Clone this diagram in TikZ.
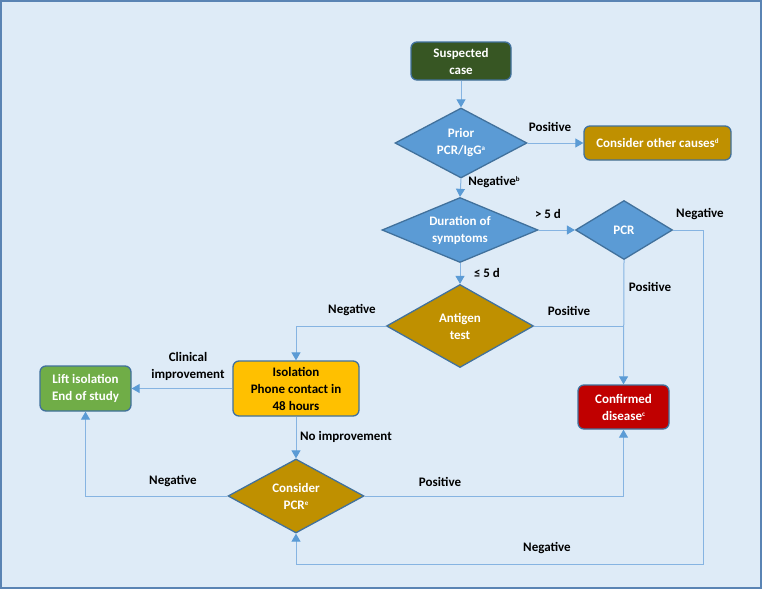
\documentclass[tikz,border=0pt]{standalone}
\usepackage{fontspec}
\setmainfont{Carlito}
\usetikzlibrary{shapes.geometric,arrows.meta}
\definecolor{bgc}{HTML}{DEEBF7}
\definecolor{framec}{HTML}{5A84B4}
\definecolor{bordc}{HTML}{41719C}
\definecolor{linec}{HTML}{86B4E2}
\definecolor{tipc}{HTML}{5B9BD5}
\definecolor{dgreen}{HTML}{375623}
\definecolor{dblue}{HTML}{5B9BD5}
\definecolor{gold}{HTML}{BF9000}
\definecolor{yell}{HTML}{FFC000}
\definecolor{lgreen}{HTML}{70AD47}
\definecolor{dred}{HTML}{C00000}
\newcommand{\supx}[1]{\raisebox{4pt}{\fontsize{7}{7}\selectfont #1}}
\tikzset{
  every node/.style={font=\fontsize{13}{17}\selectfont\bfseries},
  box/.style={draw=bordc, line width=1.3pt, rounded corners=6pt, align=center, text=white, inner sep=0pt},
  dia/.style={draw=bordc, line width=1.3pt, shape=diamond, align=center, text=white, inner sep=0pt},
  conn/.style={draw=linec, line width=1pt},
  arr/.style={conn, -{Triangle[width=9pt,length=8pt,color=tipc]}},
  lbl/.style={text=black, align=center, inner sep=0pt}
}
\begin{document}
\begin{tikzpicture}[x=1pt,y=-1pt]
\fill[bgc] (0,0) rectangle (762,589);
\draw[framec, line width=2pt] (1,1) rectangle (761,588);
\useasboundingbox (0,0) rectangle (762,589);

% nodes
\node[box, fill=dgreen, minimum width=100pt, minimum height=38pt] (susp) at (461,61) {Suspected\\case};
\node[dia, fill=dblue, aspect=1.886, minimum width=132pt, minimum height=70pt] (prior) at (461,143) {Prior\\PCR/IgG\supx{a}};
\node[box, fill=gold, minimum width=147pt, minimum height=34pt] (other) at (657.5,143) {Consider other causes\supx{d}};
\node[dia, fill=dblue, aspect=2.4, minimum width=156pt, minimum height=65pt] (dur) at (460,230) {Duration of\\symptoms};
\node[dia, fill=dblue, aspect=1.64, minimum width=97pt, minimum height=59pt] (pcr) at (624,230) {PCR};
\node[dia, fill=gold, aspect=1.77, minimum width=147pt, minimum height=83pt] (ant) at (460,326) {Antigen\\test};
\node[box, fill=yell, text=black, minimum width=126pt, minimum height=55pt] (iso) at (296,388.5) {Isolation\\Phone contact in\\48 hours};
\node[box, fill=lgreen, minimum width=91pt, minimum height=45pt] (lift) at (85.5,388.5) {Lift isolation\\End of study};
\node[box, fill=dred, minimum width=91pt, minimum height=44pt] (conf) at (623.5,407) {Confirmed\\disease\supx{c}};
\node[dia, fill=gold, aspect=1.84, minimum width=136pt, minimum height=74pt] (cpcr) at (296,496) {Consider\\PCR\supx{e}};
\coordinate (negcorner) at (703,564);

% connectors
\draw[arr] (susp.south) -- (prior.north);
\draw[arr] (prior.east) -- (other.west);
\draw[arr] (prior.south) -- (dur.north);
\draw[arr] (dur.east) -- (pcr.west);
\draw[arr] (dur.south) -- (ant.north);
\draw[arr] (pcr.south) -- (conf.north);
\draw[conn] (ant.east) -- (ant.east -| pcr.south);
\draw[arr] (ant.west) -| (iso.north);
\draw[arr] (iso.west) -- (lift.east);
\draw[arr] (iso.south) -- (cpcr.north);
\draw[arr] (cpcr.east) -| (conf.south);
\draw[arr] (cpcr.west) -| (lift.south);
\draw[arr] (pcr.east) -| (negcorner) -| (cpcr.south);

% labels
\node[lbl] (l1) at (550,127) {Positive};
\node[lbl] (l2) at (494,182) {Negative\supx{b}};
\node[lbl] (l3) at (548,214) {> 5 d};
\node[lbl] (l4) at (487,273) {≤ 5 d};
\node[lbl] (l5) at (700,214) {Negative};
\node[lbl] (l6) at (650,287) {Positive};
\node[lbl] (l7) at (569,311) {Positive};
\node[lbl] (l8) at (352,310) {Negative};
\node[lbl] (l9) at (188,366.5) {Clinical\\improvement};
\node[lbl] (l10) at (346,437) {No improvement};
\node[lbl] (l11) at (440,482) {Positive};
\node[lbl] (l12) at (173,481) {Negative};
\node[lbl] (l13) at (547,548) {Negative};
\end{tikzpicture}
\end{document}
